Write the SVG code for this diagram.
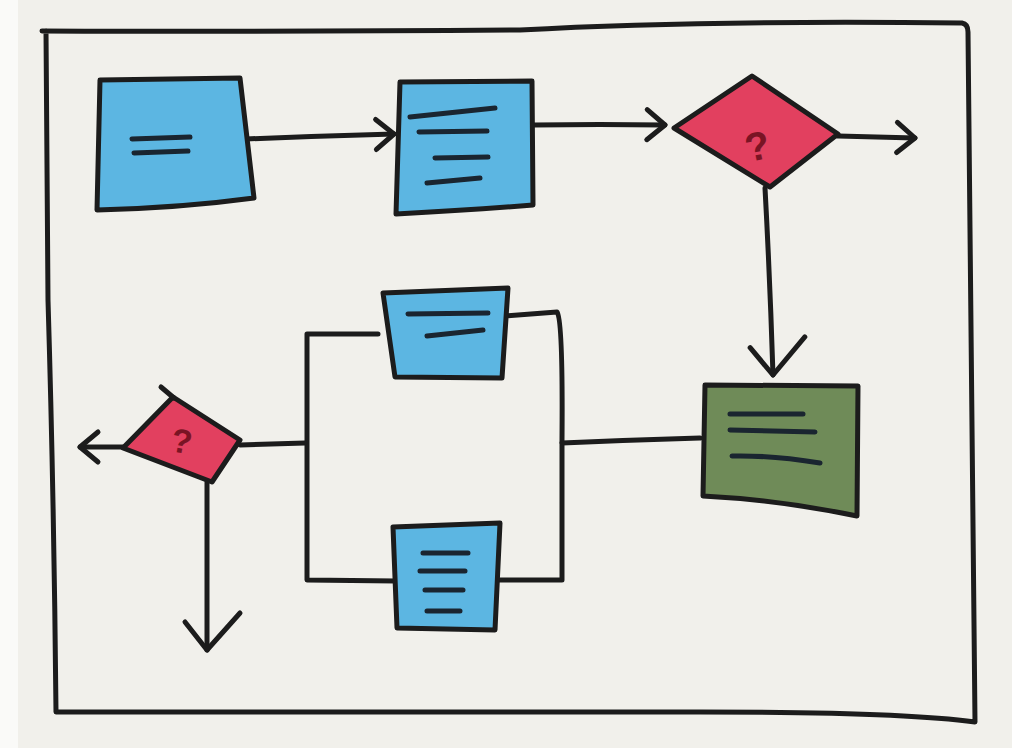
<svg xmlns="http://www.w3.org/2000/svg" width="1012" height="748" viewBox="0 0 1012 748">
<style>
.ink{fill:none;stroke:#1c1c1c;stroke-width:5;stroke-linecap:round;stroke-linejoin:round}
.txt{fill:none;stroke:#1a2530;stroke-width:5;stroke-linecap:round}
.blue{fill:#5cb6e2;stroke:#1c1c1c;stroke-width:5;stroke-linejoin:round;stroke-linecap:round}
.red{fill:#e2405f;stroke:#1c1c1c;stroke-width:5;stroke-linejoin:round;stroke-linecap:round}
.green{fill:#6f8b58;stroke:#1c1c1c;stroke-width:5;stroke-linejoin:round;stroke-linecap:round}
.q{font-family:"Liberation Sans",Arial,sans-serif;font-weight:bold;fill:#7a1424}
</style>
<defs>
<marker id="chev" markerUnits="userSpaceOnUse" markerWidth="40" markerHeight="40" viewBox="-30 -20 40 40" refX="0" refY="0" orient="auto" overflow="visible">
<path d="M-18,-15 L0,0 L-18,15" fill="none" stroke="#1c1c1c" stroke-width="5" stroke-linecap="round" stroke-linejoin="round"/>
</marker>
<marker id="chevL" markerUnits="userSpaceOnUse" markerWidth="60" markerHeight="60" viewBox="-40 -30 60 60" refX="0" refY="0" orient="auto" overflow="visible">
<path d="M-37,-33 L0,0 L-28,22" fill="none" stroke="#1c1c1c" stroke-width="5" stroke-linecap="round" stroke-linejoin="round"/>
</marker>
</defs>
<rect width="1012" height="748" fill="#f1f0eb"/>
<rect width="18" height="748" fill="#fafaf8"/>
<g id="frame">
<path class="ink" d="M42,31 Q300,32 520,30 Q700,20 962,23 Q968,24 968,32 L975,722 Q900,712 700,712 Q400,712 56,712 Q54,500 48,300 L46,31" stroke-width="6"/>
</g>
<g id="connectors">
<path class="ink" d="M246,139 Q320,136 394,134" marker-end="url(#chev)"/>
<path class="ink" d="M534,125 Q600,124 665,125" marker-end="url(#chev)"/>
<path class="ink" d="M838,136 Q880,137 915,138" marker-end="url(#chev)"/>
<path class="ink" d="M765,188 Q770,280 773,375" marker-end="url(#chevL)"/>
<path class="ink" d="M700,438 Q630,440 562,443"/>
<path class="ink" d="M378,334 L307,334 L307,580 L396,581"/>
<path class="ink" d="M505,316 L557,312 Q563,320 562,440 L562,580 L497,580"/>
<path class="ink" d="M305,443 L240,445"/>
<path class="ink" d="M123,447 L80,447" marker-end="url(#chev)"/>
<path class="ink" d="M207,482 L207,650" marker-end="url(#chevL)"/>
</g>
<g id="box1">
<path class="blue" d="M100,80 L240,78 L254,198 Q180,208 97,210 L100,80"/>
<path class="txt" d="M132,139 L190,137 M134,153 L188,151"/>
</g>
<g id="box2">
<path class="blue" d="M400,82 L532,81 L533,205 Q470,210 396,214 Z"/>
<path class="txt" d="M410,117 L495,108 M419,132 L487,131 M435,158 L488,157 M427,183 L480,178"/>
</g>
<g id="decision1">
<path class="red" d="M752,76 L838,134 L770,187 L674,128 Z"/>
<text class="q" x="757" y="160" font-size="40" text-anchor="middle" transform="rotate(-12 757 145)">?</text>
</g>
<g id="box3">
<path class="blue" d="M383,293 L508,288 L502,378 L395,377 Z"/>
<path class="txt" d="M408,314 L488,313 M427,336 L483,330"/>
</g>
<g id="box4">
<path class="blue" d="M393,527 L500,523 L495,630 L397,628 Z"/>
<path class="txt" d="M423,553 L468,553 M420,571 L465,571 M425,590 L463,590 M427,611 L460,611"/>
</g>
<g id="result">
<path class="green" d="M705,385 L858,386 L857,516 Q780,500 703,496 Z"/>
<path class="txt" d="M730,414 L803,414 M730,430 L815,432 M732,456 Q770,455 820,463"/>
</g>
<g id="decision2">
<path class="red" d="M173,397 L240,440 L212,482 L123,448 Z"/>
<path class="ink" d="M174,398 L161,387"/>
<text class="q" x="182" y="453" font-size="34" text-anchor="middle" transform="rotate(10 182 440)">?</text>
</g>
</svg>
